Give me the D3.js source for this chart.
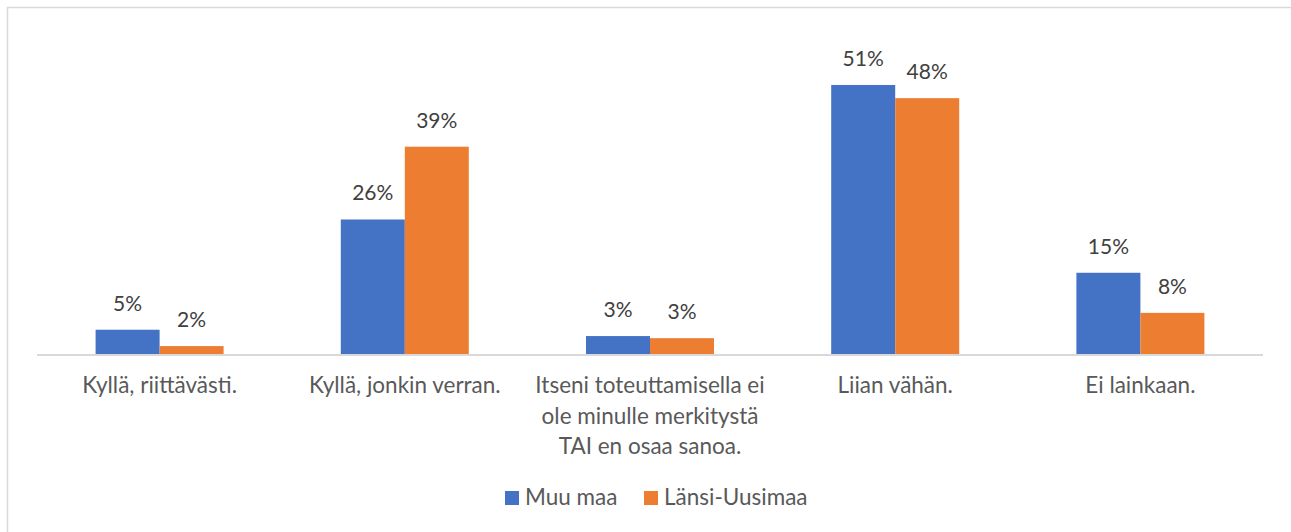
<!DOCTYPE html>
<html>
<head>
<meta charset="utf-8">
<script src="https://cdn.jsdelivr.net/npm/d3@7"></script>
<style>
  html, body { margin: 0; padding: 0; background: #fff; }
  svg { display: block; }
  text { font-family: Lato, "Open Sans", sans-serif; }
</style>
</head>
<body>
<svg id="chart" width="1291" height="532"></svg>
<script>
const categories = [
  ["Kyllä, riittävästi."],
  ["Kyllä, jonkin verran."],
  ["Itseni toteuttamisella ei", "ole minulle merkitystä", "TAI en osaa sanoa."],
  ["Liian vähän."],
  ["Ei lainkaan."]
];
const seriesNames = ["Muu maa", "Länsi-Uusimaa"];
const muuMaa = [4.6, 25.5, 3.4, 51.0, 15.4];
const lansiUusimaa = [1.5, 39.3, 3.0, 48.5, 7.8];
const muuMaaLabels = ["5%", "26%", "3%", "51%", "15%"];
const lansiUusimaaLabels = ["2%", "39%", "3%", "48%", "8%"];
const colors = ["#4472C4", "#ED7D31"];

const svg = d3.select("#chart");

// frame (left and top edges visible)
svg.append("path")
  .attr("d", "M7.5,532 V7.5 H1291")
  .attr("fill", "none")
  .attr("stroke", "#d9d9d9")
  .attr("stroke-width", 1.5);

const x0 = d3.scaleBand()
  .domain(d3.range(categories.length))
  .range([37, 1263])
  .paddingInner(0.478)
  .paddingOuter(0.239);

const x1 = d3.scaleBand()
  .domain(d3.range(seriesNames.length))
  .range([0, x0.bandwidth()]);

const y = d3.scaleLinear().domain([0, 60]).range([354, 37.5]);

const series = [
  { values: muuMaa, labels: muuMaaLabels },
  { values: lansiUusimaa, labels: lansiUusimaaLabels }
];

const groups = svg.append("g").selectAll("g")
  .data(categories.map((c, i) => i))
  .join("g")
  .attr("transform", i => `translate(${x0(i)},0)`);

groups.selectAll("rect")
  .data(i => series.map((s, k) => ({ k, v: s.values[i] })))
  .join("rect")
  .attr("x", d => x1(d.k))
  .attr("width", x1.bandwidth())
  .attr("y", d => y(d.v))
  .attr("height", d => y(0) - y(d.v))
  .attr("fill", d => colors[d.k]);

groups.selectAll("text.lbl")
  .data(i => series.map((s, k) => ({ k, v: s.values[i], t: s.labels[i] })))
  .join("text")
  .attr("class", "lbl")
  .attr("x", d => x1(d.k) + x1.bandwidth() / 2)
  .attr("y", d => y(d.v) - 19)
  .attr("text-anchor", "middle")
  .attr("fill", "#404040")
  .attr("font-size", 21)
  .text(d => d.t);

// baseline axis
svg.append("line")
  .attr("x1", 37).attr("x2", 1263)
  .attr("y1", 355).attr("y2", 355)
  .attr("stroke", "#d9d9d9")
  .attr("stroke-width", 2);

// category labels
const catG = svg.append("g");
categories.forEach((lines, i) => {
  const t = catG.append("text")
    .attr("x", x0(i) + x0.bandwidth() / 2)
    .attr("y", 393)
    .attr("text-anchor", "middle")
    .attr("fill", "#595959")
    .attr("font-size", 22.5);
  lines.forEach((ln, j) => {
    t.append("tspan")
      .attr("x", x0(i) + x0.bandwidth() / 2)
      .attr("dy", j === 0 ? 0 : 30.5)
      .text(ln);
  });
});

// legend
const legendItems = [
  { name: seriesNames[0], color: colors[0], x: 505 },
  { name: seriesNames[1], color: colors[1], x: 644 }
];
const lg = svg.append("g");
legendItems.forEach(it => {
  lg.append("rect")
    .attr("x", it.x).attr("y", 491)
    .attr("width", 14).attr("height", 14)
    .attr("fill", it.color);
  lg.append("text")
    .attr("x", it.x + 20).attr("y", 505)
    .attr("fill", "#595959")
    .attr("font-size", 22.5)
    .text(it.name);
});
</script>
</body>
</html>
